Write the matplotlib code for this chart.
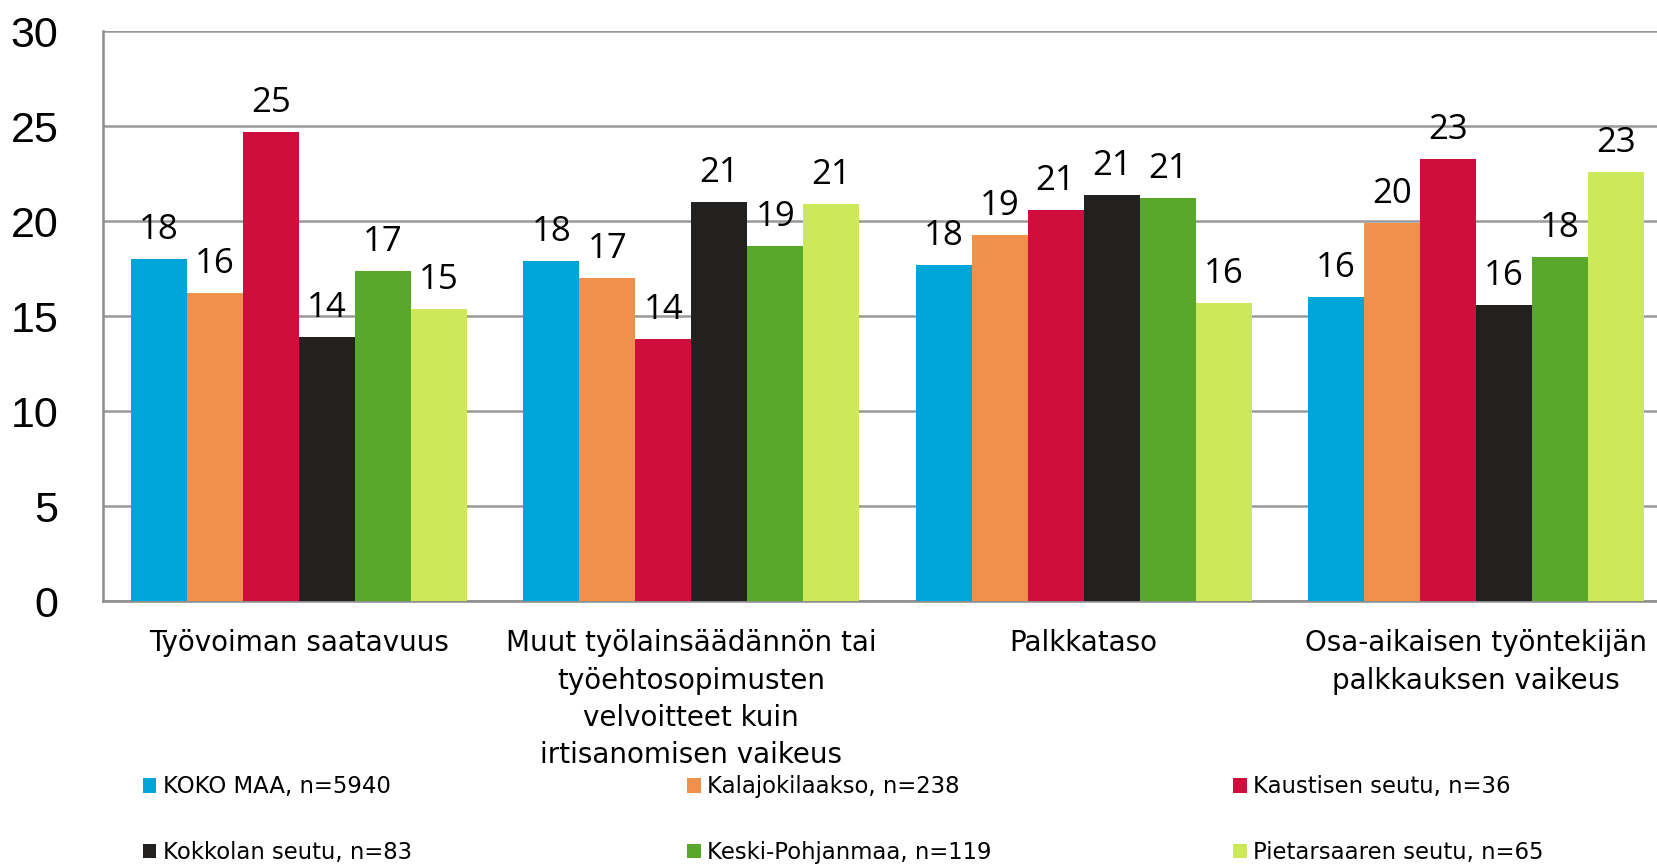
import numpy as np
import matplotlib
matplotlib.use("Agg")
import matplotlib.pyplot as plt

## DATA

categories = [
    "Työvoiman saatavuus",
    "Muut työlainsäädännön tai\ntyöehtosopimusten\nvelvoitteet kuin\nirtisanomisen vaikeus",
    "Palkkataso",
    "Osa-aikaisen työntekijän\npalkkauksen vaikeus",
]
series = [
    "KOKO MAA, n=5940",
    "Kalajokilaakso, n=238",
    "Kaustisen seutu, n=36",
    "Kokkolan seutu, n=83",
    "Keski-Pohjanmaa, n=119",
    "Pietarsaaren seutu, n=65",
]
koko_maa       = [18.0, 17.9, 17.7, 16.0]
kalajokilaakso = [16.2, 17.0, 19.3, 19.9]
kaustinen      = [24.7, 13.8, 20.6, 23.3]
kokkola        = [13.9, 21.0, 21.4, 15.6]
keski_pohjanmaa = [17.4, 18.7, 21.2, 18.1]
pietarsaari    = [15.4, 20.9, 15.7, 22.6]
values = [koko_maa, kalajokilaakso, kaustinen, kokkola, keski_pohjanmaa, pietarsaari]

colors = ["#00A5DA", "#F0914B", "#CF0E3D", "#222120", "#58A92B", "#CDE85A"]

## PLOT

fig = plt.figure(figsize=(16.58, 8.65), dpi=100)
ax = fig.add_axes([103 / 1658, 1 - 601.3 / 865, (1672 - 103) / 1658, (601.3 - 31.3) / 865])

x = np.arange(len(categories))
w = 1 / 7
bars = []
for i, (name, vals) in enumerate(zip(series, values)):
    pos = x + (i - 2.5) * w
    b = ax.bar(pos, vals, width=w, color=colors[i], label=name, zorder=3)
    bars.append(b)
    for px, v in zip(pos, vals):
        ax.annotate(f"{v:.0f}", (px, v), xytext=(0, 14.4), textcoords="offset points",
                    ha="center", va="baseline", fontsize=25, family="Open Sans", zorder=4)

ax.set_xlim(-0.5, 3.5)
ax.set_ylim(0, 30)
ax.set_yticks(range(0, 31, 5))
ax.set_xticks(x)
ax.set_xticklabels(categories, fontsize=20, family="DejaVu Sans", linespacing=1.43)
for lab in ax.get_yticklabels():
    lab.set_family("Liberation Sans")
    lab.set_fontsize(31)
ax.tick_params(axis="both", length=0)
ax.tick_params(axis="y", pad=32)
ax.tick_params(axis="x", pad=20)

ax.grid(axis="y", color="#999999", linewidth=1.8, zorder=0)
for s in ["top", "right"]:
    ax.spines[s].set_visible(False)
ax.spines["left"].set_color("#8c8c8c")
ax.spines["left"].set_linewidth(1.8)
ax.spines["bottom"].set_color("#8c8c8c")
ax.spines["bottom"].set_linewidth(1.8)

## LEGEND (three columns, two rows)

col_x = [142.7, 687, 1233]
for c in range(3):
    hs = [bars[c], bars[c + 3]]
    ls = [series[c], series[c + 3]]
    fig.legend(hs, ls, loc="center left", bbox_to_anchor=(col_x[c] / 1658, 1 - 819.6 / 865),
               frameon=False, prop={"family": "DejaVu Sans", "size": 16.4},
               handlelength=0.6, handleheight=0.6, handletextpad=0.3,
               labelspacing=1.86, borderpad=0, borderaxespad=0)

fig.savefig("out.png", dpi=100)
